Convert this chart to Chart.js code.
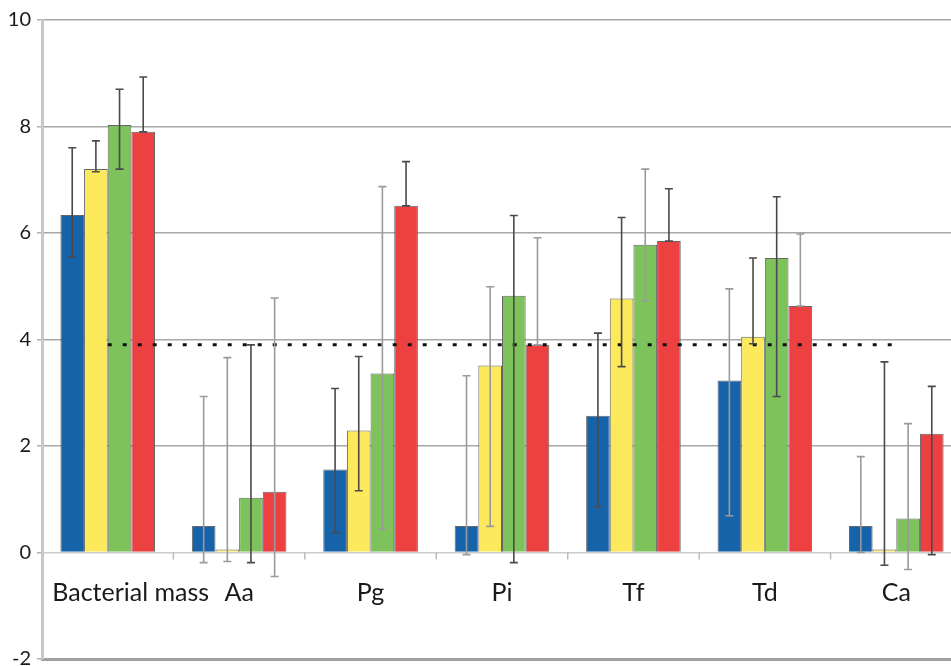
<!DOCTYPE html>
<html>
<head>
<meta charset="utf-8">
<script src="https://cdn.jsdelivr.net/npm/chart.js@4"></script>
<style>
html,body{margin:0;padding:0;background:#fff;overflow:hidden;}
#wrap{width:962px;height:677px;}
</style>
</head>
<body>
<div id="wrap"><canvas id="c"></canvas></div>
<script>
const categories = ['Bacterial mass','Aa','Pg','Pi','Tf','Td','Ca'];
const tickLabels = ['-2','0','2','4','6','8','10'];
const blueVals   = [6.34, 0.50, 1.56, 0.50, 2.57, 3.23, 0.50];
const blueLow    = [5.55, -0.19, 0.37, -0.04, 0.86, 0.69, 0.00];
const blueHigh   = [7.60, 2.93, 3.08, 3.32, 4.12, 4.95, 1.80];
const yellowVals = [7.20, 0.03, 2.29, 3.51, 4.77, 4.05, 0.03];
const yellowLow  = [7.15, -0.17, 1.16, 0.49, 3.49, 3.92, -0.24];
const yellowHigh = [7.73, 3.66, 3.68, 4.99, 6.29, 5.53, 3.58];
const greenVals  = [8.03, 1.03, 3.36, 4.82, 5.78, 5.53, 0.64];
const greenLow   = [7.20, -0.19, 0.44, -0.19, 4.73, 2.93, -0.32];
const greenHigh  = [8.70, 3.90, 6.87, 6.33, 7.20, 6.68, 2.42];
const redVals    = [7.90, 1.14, 6.51, 3.90, 5.85, 4.63, 2.23];
const redLow     = [7.90, -0.45, 6.51, 3.90, 5.85, 4.63, -0.04];
const redHigh    = [8.93, 4.78, 7.34, 5.91, 6.83, 5.98, 3.12];
const thresholdVals = [3.9, 3.9, 3.9, 3.9, 3.9, 3.9, 3.9];

// styles (kept apart from data)
const DARK = '#4a4a4a', LIGHT = '#9a9a9a';
const errStyle = [
  [DARK, LIGHT, DARK, LIGHT, DARK, LIGHT, LIGHT],
  [DARK, LIGHT, DARK, LIGHT, DARK, DARK, DARK],
  [DARK, DARK, LIGHT, DARK, LIGHT, DARK, LIGHT],
  [DARK, LIGHT, DARK, LIGHT, DARK, LIGHT, DARK]
];
const FONT = 'Lato, "Open Sans", sans-serif';

const errLows = [blueLow, yellowLow, greenLow, redLow];
const errHighs = [blueHigh, yellowHigh, greenHigh, redHigh];

const errorBarPlugin = {
  id: 'errbars',
  afterDatasetsDraw(chart) {
    const ctx = chart.ctx;
    const y = chart.scales.y;
    for (let d = 0; d < 4; d++) {
      const meta = chart.getDatasetMeta(d);
      meta.data.forEach((bar, i) => {
        const x = bar.x;
        const yl = y.getPixelForValue(errLows[d][i]);
        const yh = y.getPixelForValue(errHighs[d][i]);
        ctx.save();
        ctx.strokeStyle = errStyle[d][i];
        ctx.lineWidth = 1.6;
        ctx.beginPath();
        ctx.moveTo(x, yl); ctx.lineTo(x, yh);
        ctx.moveTo(x - 4, yh); ctx.lineTo(x + 4, yh);
        ctx.moveTo(x - 4, yl); ctx.lineTo(x + 4, yl);
        ctx.stroke();
        ctx.restore();
      });
    }
  }
};

const labelPlugin = {
  id: 'catlabels',
  afterDraw(chart) {
    const ctx = chart.ctx;
    const xs = chart.scales.x, ys = chart.scales.y;
    const y0 = ys.getPixelForValue(0);
    ctx.save();
    ctx.strokeStyle = '#bbbbbb';
    ctx.lineWidth = 1.5;
    for (let i = 1; i < categories.length; i++) {
      const xb = (xs.getPixelForValue(i - 1) + xs.getPixelForValue(i)) / 2;
      ctx.beginPath();
      ctx.moveTo(xb, y0); ctx.lineTo(xb, y0 + 7);
      ctx.stroke();
    }
    ctx.fillStyle = '#1a1a1a';
    ctx.font = '25px ' + FONT;
    ctx.textAlign = 'center';
    ctx.textBaseline = 'middle';
    const ly = ys.getPixelForValue(-0.75);
    categories.forEach((c, i) => {
      let x = xs.getPixelForValue(i);
      if (i === 0) x += 23;
      ctx.fillText(c, x, ly);
    });
    ctx.restore();
  }
};

const barCommon = {
  borderColor: '#666666',
  borderWidth: 1,
  categoryPercentage: 0.72,
  barPercentage: 1.0,
  minBarLength: 3,
  order: 2
};

new Chart(document.getElementById('c'), {
  data: {
    labels: categories,
    datasets: [
      Object.assign({type: 'bar', data: blueVals, backgroundColor: '#1763aa'}, barCommon),
      Object.assign({type: 'bar', data: yellowVals, backgroundColor: '#fdea5c'}, barCommon),
      Object.assign({type: 'bar', data: greenVals, backgroundColor: '#7ec25b'}, barCommon),
      Object.assign({type: 'bar', data: redVals, backgroundColor: '#ec4140'}, barCommon),
      {type: 'line', data: thresholdVals, borderColor: '#111', borderWidth: 3,
       borderDash: [4, 11], pointRadius: 0, fill: false, order: 1}
    ]
  },
  options: {
    responsive: true,
    maintainAspectRatio: false,
    animation: false,
    layout: {padding: {top: 20, bottom: 0, left: 0, right: 0}},
    plugins: {legend: {display: false}, tooltip: {enabled: false}},
    scales: {
      x: {
        type: 'category',
        grid: {display: false},
        ticks: {display: false},
        border: {display: true, color: '#a0a0a0', width: 3},
        afterFit(s) { s.height = 0; }
      },
      y: {
        min: -2, max: 10,
        ticks: {
          stepSize: 2,
          color: '#1a1a1a',
          font: {size: 20, family: FONT},
          padding: 6
        },
        grid: {
          color: ctx => ctx.tick && ctx.tick.value === 0 ? '#cccccc' : (ctx.tick && ctx.tick.value === -2 ? 'rgba(0,0,0,0)' : '#a8a8a8'),
          lineWidth: 1.5,
          tickLength: 5,
          tickColor: '#b0b0b0'
        },
        border: {display: true, color: '#c8c8c8', width: 3},
        afterFit(s) { s.width = 42; }
      }
    }
  },
  plugins: [errorBarPlugin, labelPlugin]
});
</script>
</body>
</html>
